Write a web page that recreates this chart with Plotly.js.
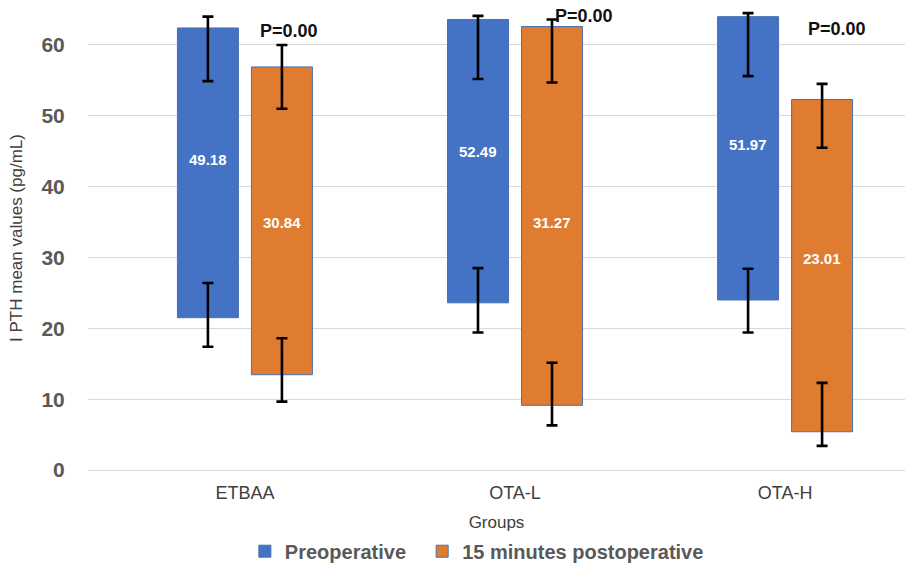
<!DOCTYPE html>
<html>
<head>
<meta charset="utf-8">
<script src="https://cdn.plot.ly/plotly-3.0.1.min.js"></script>
<style>html,body{margin:0;padding:0;background:#fff;}#chart{width:910px;height:566px;}</style>
</head>
<body>
<div id="chart"></div>
<script>
// ---- data ----
const groups = ["ETBAA", "OTA-L", "OTA-H"];
const seriesNames = ["Preoperative", "15 minutes postoperative"];
const meanLabels = [["49.18", "52.49", "51.97"], ["30.84", "31.27", "23.01"]];
// floating bar bottom / top
const preBottom = [21.5, 23.6, 24.0];
const preTop = [62.4, 63.6, 64.0];
const postBottom = [13.45, 9.13, 5.4];
const postTop = [56.9, 62.6, 52.3];
// whiskers near top of bar (high cap / low cap)
const preTopHi = [64.0, 64.1, 64.5];
const preTopLo = [54.9, 55.2, 55.6];
const postTopHi = [60.0, 63.6, 54.5];
const postTopLo = [51.0, 54.7, 45.5];
// whiskers near bottom of bar
const preBotHi = [26.4, 28.5, 28.4];
const preBotLo = [17.4, 19.4, 19.4];
const postBotHi = [18.6, 15.15, 12.3];
const postBotLo = [9.65, 6.3, 3.4];
const pText = ["P=0.00", "P=0.00", "P=0.00"];

// ---- text placement (not data) ----
const labelY = [[43.8, 44.9, 46.0], [35.0, 35.0, 29.9]];
const pX = [0.163, 1.256, 2.193];
const pY = [62.0, 64.1, 62.3];
const barHalfOffset = 0.137;

const colors = ["#4472C4", "#E07C2F"];
const edge = "#4A6FB5";
const FONT = "Liberation Sans, Arial, sans-serif";

function errCfg(hi, lo, center) {
  return {
    type: "data", symmetric: false,
    array: hi.map((h, i) => h - center[i]),
    arrayminus: lo.map((l, i) => center[i] - l),
    color: "#000", thickness: 2.6, width: 5.5
  };
}

const bottoms = [preBottom, postBottom];
const tops = [preTop, postTop];
const topHi = [preTopHi, postTopHi], topLo = [preTopLo, postTopLo];
const botHi = [preBotHi, postBotHi], botLo = [preBotLo, postBotLo];

const traces = [];
for (let s = 0; s < 2; s++) {
  traces.push({
    type: "bar", name: seriesNames[s] + (s === 0 ? "\u00a0\u00a0" : ""), x: groups,
    base: bottoms[s], y: tops[s].map((t, i) => t - bottoms[s][i]),
    offsetgroup: "g" + s,
    marker: {color: colors[s], line: {color: edge, width: 1}},
    error_y: errCfg(topHi[s], topLo[s], tops[s]),
    hoverinfo: "skip"
  });
}
for (let s = 0; s < 2; s++) {
  traces.push({
    type: "bar", name: seriesNames[s] + " low", x: groups, showlegend: false,
    base: [0, 0, 0], y: bottoms[s],
    offsetgroup: "g" + s,
    marker: {color: "rgba(0,0,0,0)", line: {width: 0}},
    error_y: errCfg(botHi[s], botLo[s], bottoms[s]),
    hoverinfo: "skip"
  });
}

const annotations = [];
for (let s = 0; s < 2; s++) {
  for (let i = 0; i < groups.length; i++) {
    annotations.push({
      x: i + (s === 0 ? -barHalfOffset : barHalfOffset), y: labelY[s][i],
      xref: "x", yref: "y", text: "<b>" + meanLabels[s][i] + "</b>", showarrow: false,
      font: {family: FONT, size: 15, color: "#ffffff"}
    });
  }
}
for (let i = 0; i < groups.length; i++) {
  annotations.push({
    x: pX[i], y: pY[i], xref: "x", yref: "y", text: "<b>" + pText[i] + "</b>", showarrow: false,
    font: {family: FONT, size: 18, color: "#111111"}
  });
}

const layout = {
  width: 910, height: 566,
  margin: {l: 88, r: 5, t: 6, b: 96, autoexpand: false},
  paper_bgcolor: "#fff", plot_bgcolor: "#fff",
  barmode: "group", bargap: 0.452, bargroupgap: 0.176,
  showlegend: true,
  legend: {
    orientation: "h", x: 0.192, xanchor: "left", y: -0.175, yanchor: "middle",
    font: {family: FONT, size: 20, color: "#595959", weight: "bold"},
    traceorder: "normal", itemwidth: 30
  },
  xaxis: {
    type: "category", range: [-0.581, 2.444], automargin: false,
    showgrid: false, zeroline: false, showline: false,
    ticks: "outside", ticklen: 6, tickcolor: "rgba(0,0,0,0)",
    tickfont: {family: FONT, size: 18, color: "#404040"},
    title: {text: "Groups", standoff: 14, font: {family: FONT, size: 17, color: "#404040"}}
  },
  yaxis: {
    range: [0, 65.5], tickvals: [0, 10, 20, 30, 40, 50, 60], automargin: false,
    showgrid: true, gridcolor: "#D9D9D9", gridwidth: 1,
    zeroline: true, zerolinecolor: "#D9D9D9", zerolinewidth: 1, showline: false,
    ticks: "outside", ticklen: 18, tickcolor: "rgba(0,0,0,0)",
    tickfont: {family: FONT, size: 21, color: "#595959", weight: "bold"},
    title: {text: "I PTH mean values (pg/mL)", standoff: 14, font: {family: FONT, size: 17, color: "#404040"}}
  },
  annotations: annotations
};

Plotly.newPlot("chart", traces, layout, {displayModeBar: false, staticPlot: true});
</script>
</body>
</html>
